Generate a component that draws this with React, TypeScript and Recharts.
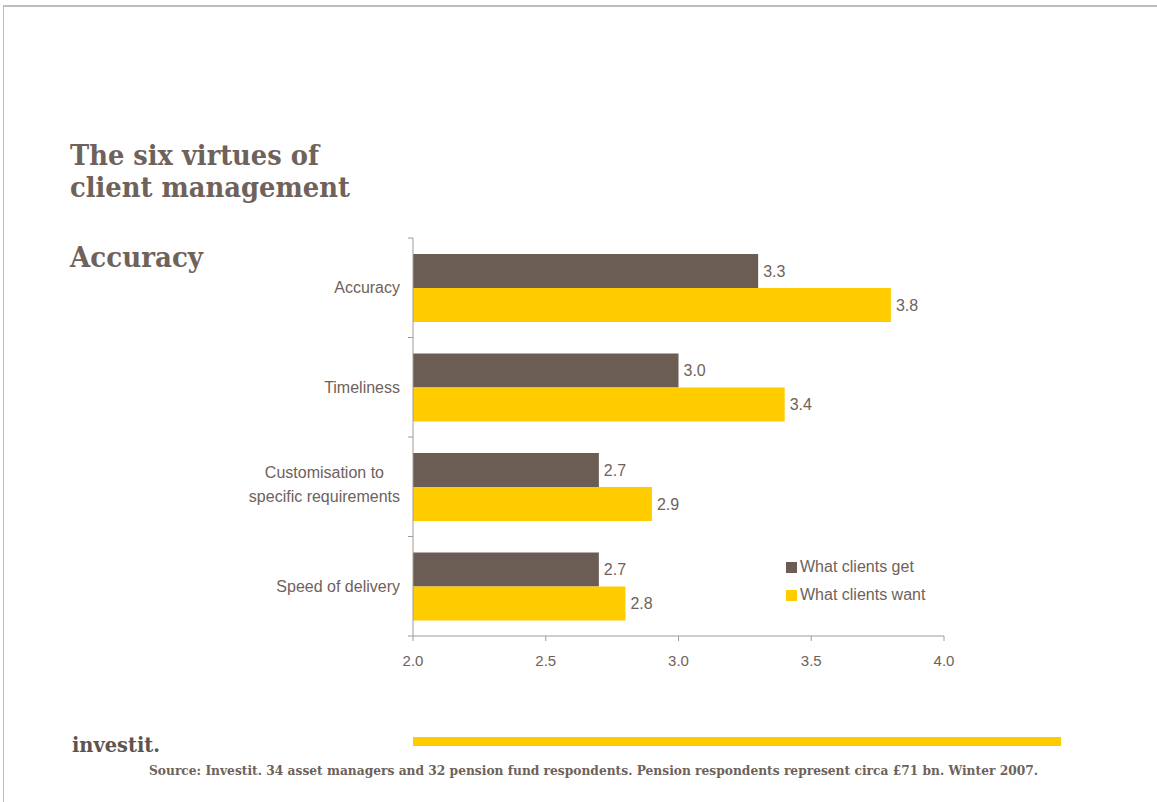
import React from 'react';
import { BarChart, Bar, XAxis, YAxis, LabelList, Legend } from 'recharts';

const categories = ['Accuracy', 'Timeliness', 'Customisation to specific requirements', 'Speed of delivery'];
const categoryLines = [['Accuracy'], ['Timeliness'], ['Customisation to', 'specific requirements'], ['Speed of delivery']];
const getValues = [3.3, 3.0, 2.7, 2.7];
const wantValues = [3.8, 3.4, 2.9, 2.8];
const xTicks = [2.0, 2.5, 3.0, 3.5, 4.0];
const seriesNames = ['What clients get', 'What clients want'];
const titleLines = ['The six virtues of', 'client management'];
const subtitle = 'Accuracy';
const logoText = 'investit.';
const sourceText = 'Source: Investit. 34 asset managers and 32 pension fund respondents. Pension respondents represent circa £71 bn. Winter 2007.';

const BROWN = '#6B5C54';
const YELLOW = '#FFCC00';
const TEXT = '#6E625B';
const AXIS = '#A39A95';
const SANS = "'Liberation Sans', Arial, sans-serif";
const SERIF = "'DejaVu Serif', serif";

const W = 1157;
const H = 802;
const MARGIN = { top: 238, right: 213, bottom: 126, left: 213 };
const X_AXIS_H = 40;
const BAND = (H - MARGIN.top - MARGIN.bottom - X_AXIS_H) / categories.length;

const data = categories.map((c, i) => ({ category: c, get: getValues[i], want: wantValues[i] }));

let ctx: CanvasRenderingContext2D | null = null;
function measure(s: string, font: string) {
  if (!ctx) ctx = document.createElement('canvas').getContext('2d');
  if (!ctx) return s.length * 8;
  ctx.font = font;
  return ctx.measureText(s).width;
}

const CategoryTick = (props: any) => {
  const { x, y, payload, index } = props;
  const idx = categories.indexOf(payload.value);
  const lines = idx >= 0 ? categoryLines[idx] : [String(payload.value)];
  const axisX = x + 13;
  const edgeTick = (ey: number, k: string) => (
    <line key={k} x1={axisX - 5} x2={axisX} y1={ey} y2={ey} stroke={AXIS} strokeWidth={1} />
  );
  const ticks = [edgeTick(y - BAND / 2, 'a')];
  if (idx === categories.length - 1) ticks.push(edgeTick(y + BAND / 2, 'b'));
  let label;
  if (lines.length === 1) {
    label = (
      <text x={x} y={y} dy="0.35em" textAnchor="end" fill={TEXT} fontSize={16} fontFamily={SANS}>
        {lines[0]}
      </text>
    );
  } else {
    const maxW = Math.max(...lines.map((l) => measure(l, `16px ${SANS}`)));
    const cx = x - maxW / 2;
    const lh = 24;
    const start = y - ((lines.length - 1) * lh) / 2 - 2;
    label = (
      <text textAnchor="middle" fill={TEXT} fontSize={16} fontFamily={SANS}>
        {lines.map((l, i) => (
          <tspan key={i} x={cx} y={start + i * lh} dy="0.35em">
            {l}
          </tspan>
        ))}
      </text>
    );
  }
  return (
    <g>
      {ticks}
      {label}
    </g>
  );
};

const XTick = (props: any) => {
  const { x, y, payload } = props;
  return (
    <text x={x} y={y} dy="0.71em" textAnchor="middle" fill={TEXT} fontSize={15} fontFamily={SANS}>
      {Number(payload.value).toFixed(1)}
    </text>
  );
};

const LegendContent = (props: any) => {
  const { payload } = props;
  return (
    <div style={{ fontFamily: SANS, fontSize: 16, color: TEXT }}>
      {(payload || []).map((p: any, i: number) => (
        <div key={i} style={{ display: 'flex', alignItems: 'center', height: 28 }}>
          <span style={{ display: 'inline-block', width: 11, height: 11, background: p.color, marginRight: 3 }} />
          <span>{p.value}</span>
        </div>
      ))}
    </div>
  );
};

export default function App() {
  return (
    <div style={{ position: 'absolute', left: 0, top: 0, width: W, height: H, background: '#fff', overflow: 'hidden' }}>
      <div style={{ position: 'absolute', left: 3, top: 5, width: 1154, height: 2, background: '#BDBDBD' }} />
      <div style={{ position: 'absolute', left: 3, top: 5, width: 1, height: 797, background: '#BDBDBD' }} />
      <svg style={{ position: 'absolute', left: 0, top: 0 }} width={W} height={H}>
        <text x={70} y={165} fill={TEXT} fontFamily={SERIF} fontWeight="bold" fontSize={27} textLength={249} lengthAdjust="spacingAndGlyphs">
          {titleLines[0]}
        </text>
        <text x={70} y={197} fill={TEXT} fontFamily={SERIF} fontWeight="bold" fontSize={27} textLength={280} lengthAdjust="spacingAndGlyphs">
          {titleLines[1]}
        </text>
        <text x={70} y={267} fill={TEXT} fontFamily={SERIF} fontWeight="bold" fontSize={27} textLength={133} lengthAdjust="spacingAndGlyphs">
          {subtitle}
        </text>
        <text x={72} y={752} fill="#5E534D" fontFamily={SERIF} fontWeight="bold" fontSize={21} textLength={88} lengthAdjust="spacingAndGlyphs">
          {logoText}
        </text>
        <rect x={413} y={737} width={648} height={9} fill={YELLOW} />
        <text x={149} y={775} fill={TEXT} fontFamily={SERIF} fontWeight="bold" fontSize={12.5} textLength={889} lengthAdjust="spacingAndGlyphs">
          {sourceText}
        </text>
      </svg>
      <div style={{ position: 'absolute', left: 0, top: 0 }}>
        <BarChart
          width={W}
          height={H}
          data={data}
          layout="vertical"
          margin={MARGIN}
          barCategoryGap="16%"
          barGap={0}
        >
          <XAxis
            type="number"
            dataKey="get"
            domain={[2, 4]}
            ticks={xTicks}
            allowDataOverflow
            stroke={AXIS}
            tickSize={5}
            tickMargin={14}
            height={X_AXIS_H}
            tick={<XTick />}
            interval={0}
          />
          <YAxis
            type="category"
            dataKey="category"
            width={200}
            stroke={AXIS}
            tickLine={false}
            tickSize={0}
            tickMargin={13}
            tick={<CategoryTick />}
            interval={0}
          />
          <Bar dataKey="get" name={seriesNames[0]} fill={BROWN} isAnimationActive={false}>
            <LabelList dataKey="get" position="right" offset={5} formatter={(v: any) => Number(v).toFixed(1)} fill={TEXT} fontSize={16} fontFamily={SANS} />
          </Bar>
          <Bar dataKey="want" name={seriesNames[1]} fill={YELLOW} isAnimationActive={false}>
            <LabelList dataKey="want" position="right" offset={5} formatter={(v: any) => Number(v).toFixed(1)} fill={TEXT} fontSize={16} fontFamily={SANS} />
          </Bar>
          <Legend
            layout="vertical"
            align="center"
            verticalAlign="middle"
            content={<LegendContent />}
            wrapperStyle={{ position: 'absolute', left: 786, top: 553, width: 200, bottom: 'auto', right: 'auto' }}
          />
        </BarChart>
      </div>
    </div>
  );
}
